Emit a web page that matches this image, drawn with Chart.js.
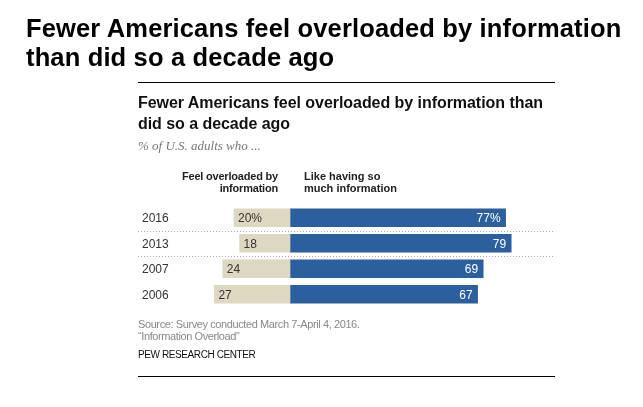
<!DOCTYPE html>
<html>
<head>
<meta charset="utf-8">
<script src="https://cdn.jsdelivr.net/npm/chart.js@4"></script>
<style>
  html,body{margin:0;padding:0;background:#fff;}
  #wrap{position:relative;width:643px;height:407px;overflow:hidden;font-family:"Liberation Sans",Arial,sans-serif;}
  canvas{position:absolute;left:0;top:0;}
  .t{position:absolute;white-space:nowrap;}
  #outer{left:26px;top:14px;font-size:25.5px;font-weight:bold;line-height:29px;color:#000;letter-spacing:0.15px;}
  #inner{left:138px;top:92px;font-size:16px;font-weight:bold;line-height:21px;color:#111;letter-spacing:-0.05px;}
  #sub{left:138px;top:138px;font-family:"Liberation Serif","DejaVu Serif",serif;font-style:italic;font-size:13px;color:#777;}
  #h1{right:365px;top:170px;text-align:right;font-size:11px;font-weight:bold;line-height:12px;color:#222;letter-spacing:-0.2px;}
  #h2{left:304px;top:170px;font-size:11px;font-weight:bold;line-height:12px;color:#222;}
  #src{left:138px;top:318px;font-size:11px;line-height:12px;color:#888;letter-spacing:-0.4px;}
  #pew{left:138px;top:349px;font-size:10px;color:#111;letter-spacing:-0.4px;}
  .rule{position:absolute;left:138px;width:417px;height:1px;background:#000;}
</style>
</head>
<body>
<div id="wrap">
  <canvas id="c" width="643" height="407"></canvas>
  <div class="t" id="outer">Fewer Americans feel overloaded by information<br>than did so a decade ago</div>
  <div class="rule" style="top:82px"></div>
  <div class="t" id="inner">Fewer Americans feel overloaded by information than<br>did so a decade ago</div>
  <div class="t" id="sub">% of U.S. adults who ...</div>
  <div class="t" id="h1">Feel overloaded by<br>information</div>
  <div class="t" id="h2">Like having so<br>much information</div>
  <div class="t" id="src">Source: Survey conducted March 7-April 4, 2016.<br>“Information Overload”</div>
  <div class="t" id="pew">PEW RESEARCH CENTER</div>
  <div class="rule" style="top:376px"></div>
</div>
<script>
const years = ["2016", "2013", "2007", "2006"];
const overloaded = [20, 18, 24, 27];
const likeInfo = [77, 79, 69, 67];
const overLabels = ["20%", "18", "24", "27"];
const likeLabels = ["77%", "79", "69", "67"];

const overlayPlugin = {
  id: 'overlay',
  afterDatasetsDraw(chart) {
    const ctx = chart.ctx;
    const yScale = chart.scales.y;
    ctx.save();
    // dotted separators between 2016/2013 and 2013/2007
    ctx.strokeStyle = '#aaa';
    ctx.lineWidth = 1;
    ctx.setLineDash([1, 2]);
    [0, 1].forEach(i => {
      const y = Math.round((yScale.getPixelForValue(i) + yScale.getPixelForValue(i + 1)) / 2) + 0.5;
      ctx.beginPath();
      ctx.moveTo(138, y);
      ctx.lineTo(555, y);
      ctx.stroke();
    });
    ctx.setLineDash([]);
    // year labels
    ctx.font = '12px "Liberation Sans", Arial, sans-serif';
    ctx.fillStyle = '#333';
    ctx.textBaseline = 'middle';
    ctx.textAlign = 'left';
    years.forEach((yr, i) => {
      ctx.fillText(yr, 142, yScale.getPixelForValue(i) + 1);
    });
    // value labels
    const m0 = chart.getDatasetMeta(0);
    const m1 = chart.getDatasetMeta(1);
    m0.data.forEach((bar, i) => {
      ctx.fillStyle = '#333';
      ctx.textAlign = 'left';
      ctx.fillText(overLabels[i], bar.x + 4, bar.y + 1);
    });
    m1.data.forEach((bar, i) => {
      ctx.fillStyle = '#fff';
      ctx.textAlign = 'right';
      ctx.fillText(likeLabels[i], bar.x - 5, bar.y + 1);
    });
    ctx.restore();
  }
};

new Chart(document.getElementById('c'), {
  type: 'bar',
  data: {
    labels: years,
    datasets: [
      { label: 'Feel overloaded by information', data: overloaded.map(v => -v), backgroundColor: '#dcd8c1', borderWidth: 0, barThickness: 18 },
      { label: 'Like having so much information', data: likeInfo, backgroundColor: '#2c5f9e', borderWidth: 0, barThickness: 18 }
    ]
  },
  options: {
    indexAxis: 'y',
    responsive: false,
    animation: false,
    devicePixelRatio: 1,
    layout: { padding: { left: 136, right: 87, top: 205, bottom: 100 } },
    plugins: { legend: { display: false }, tooltip: { enabled: false } },
    scales: {
      x: { stacked: true, min: -55, max: 95, display: false },
      y: { stacked: true, display: false }
    }
  },
  plugins: [overlayPlugin]
});
</script>
</body>
</html>
